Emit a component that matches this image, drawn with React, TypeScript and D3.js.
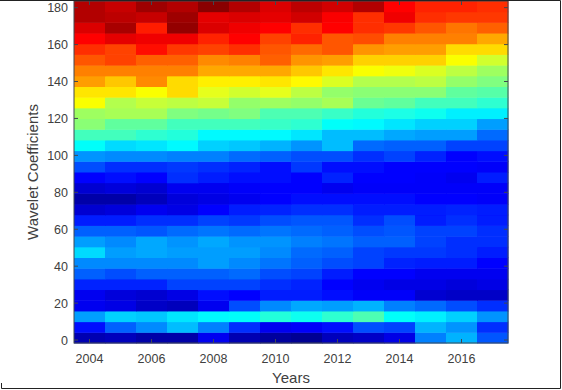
import * as d3 from "d3";

const width = 562;
const height = 390;
const margin = { top: 1, right: 54, bottom: 47, left: 74 };

const years = [2004, 2005, 2006, 2007, 2008, 2009, 2010, 2011, 2012, 2013, 2014, 2015, 2016, 2017];
const xTicks = [2004, 2006, 2008, 2010, 2012, 2014, 2016];
const yTicks = [0, 20, 40, 60, 80, 100, 120, 140, 160, 180];

// colour level of every cell (0 = dark blue, 100 = dark red), bottom row first
const rows = [
    [5, 6, 4, 4, 11, 5, 3, 2, 6, 7, 10, 25, 30, 21],
    [14, 22, 26, 31, 25, 17, 11, 12, 14, 20, 19, 30, 27, 17],
    [28, 33, 32, 35, 37, 38, 41, 39, 42, 45, 38, 36, 33, 27],
    [11, 10, 7, 6, 11, 20, 26, 29, 28, 30, 25, 23, 20, 17],
    [11, 9, 8, 10, 14, 13, 15, 15, 14, 12, 12, 8, 7, 7],
    [16, 16, 16, 19, 19, 19, 17, 16, 13, 11, 10, 10, 9, 10],
    [22, 20, 22, 22, 22, 23, 20, 19, 15, 13, 13, 11, 11, 11],
    [26, 26, 26, 26, 28, 26, 24, 22, 20, 19, 16, 15, 15, 13],
    [34, 28, 29, 28, 28, 28, 26, 23, 22, 19, 18, 18, 17, 15],
    [28, 26, 29, 27, 29, 27, 27, 25, 24, 22, 22, 19, 17, 17],
    [22, 22, 21, 23, 24, 23, 24, 23, 22, 20, 21, 19, 19, 17],
    [15, 15, 17, 17, 19, 18, 20, 21, 21, 17, 20, 15, 17, 15],
    [8, 9, 11, 10, 13, 15, 16, 17, 17, 15, 15, 15, 16, 15],
    [4, 4, 6, 9, 10, 11, 13, 14, 14, 14, 14, 13, 13, 12],
    [8, 9, 8, 11, 11, 12, 13, 13, 11, 12, 12, 12, 12, 12],
    [13, 14, 13, 17, 15, 14, 14, 13, 16, 13, 13, 12, 11, 15],
    [20, 17, 17, 18, 17, 16, 14, 18, 14, 14, 13, 13, 13, 12],
    [27, 26, 26, 25, 25, 23, 22, 20, 20, 17, 19, 16, 13, 14],
    [38, 34, 35, 37, 33, 32, 30, 27, 31, 23, 22, 22, 19, 19],
    [44, 44, 42, 41, 37, 37, 37, 35, 31, 31, 29, 28, 28, 23],
    [51, 47, 47, 44, 44, 44, 43, 42, 38, 37, 35, 33, 33, 28],
    [53, 54, 54, 50, 49, 50, 45, 45, 43, 41, 40, 39, 36, 36],
    [62, 55, 57, 56, 57, 52, 53, 52, 54, 48, 47, 44, 44, 42],
    [65, 65, 62, 66, 60, 58, 60, 56, 52, 51, 51, 51, 47, 46],
    [72, 68, 74, 66, 64, 64, 65, 63, 59, 55, 55, 56, 52, 50],
    [75, 75, 75, 75, 71, 71, 71, 68, 65, 62, 61, 59, 56, 53],
    [79, 81, 78, 78, 74, 75, 78, 73, 72, 67, 67, 67, 62, 58],
    [83, 81, 86, 82, 81, 83, 79, 77, 79, 73, 72, 72, 66, 66],
    [87, 90, 89, 89, 84, 87, 81, 84, 79, 80, 75, 75, 75, 71],
    [91, 96, 85, 98, 91, 89, 87, 83, 87, 83, 82, 79, 76, 78],
    [95, 94, 93, 97, 90, 91, 90, 92, 88, 83, 89, 83, 82, 82],
    [95, 93, 97, 95, 99, 95, 91, 94, 92, 95, 87, 84, 84, 83],
];

const rowLevels = d3.range(rows.length);
const fontFamily = "'Liberation Sans', Arial, sans-serif";
const textColor = "#404040";

// MATLAB jet
const jet = d3.scaleLinear<string>()
    .domain([0, 12.5, 37.5, 62.5, 87.5, 100])
    .range(["#00007f", "#0000ff", "#00ffff", "#ffff00", "#ff0000", "#7f0000"]);

export default function App() {
    const innerRight = width - margin.right;
    const innerBottom = height - margin.bottom;

    const x = d3.scaleLinear()
        .domain([2003.5, 2017.5])
        .range([margin.left, innerRight]);

    const y = d3.scaleLinear()
        .domain([-1.6, 183.6])
        .range([innerBottom, margin.top]);

    const rowBand = d3.scaleBand<number>()
        .domain(rowLevels)
        .range([innerBottom, margin.top]);

    const columnWidth = x(2005) - x(2004);

    return (
        <svg
            width={width}
            height={height}
            viewBox={`0 0 ${width} ${height}`}
            style={{ position: "fixed", top: 0, left: 0, background: "#fff" }}
        >
            {/* the source is a soft screenshot, so the cells get a touch of blur */}
            <defs>
                <filter id="soft" x="0" y="0" width="100%" height="100%">
                    <feGaussianBlur stdDeviation="0.5" />
                </filter>
            </defs>

            <g filter="url(#soft)">
                {rows.map((row, i) => row.map((value, j) => (
                    <rect
                        key={`${i}-${j}`}
                        x={x(years[j]) - columnWidth / 2}
                        y={rowBand(i)}
                        width={columnWidth + 0.5}
                        height={rowBand.bandwidth() + 0.5}
                        fill={jet(value)}
                    />
                )))}
            </g>

            <rect
                x={margin.left}
                y={margin.top}
                width={innerRight - margin.left}
                height={innerBottom - margin.top}
                fill="none"
                stroke="#404850"
                strokeWidth={1}
            />

            {xTicks.map(tick => (
                <g key={tick} transform={`translate(${x(tick)},0)`}>
                    <line y1={innerBottom} y2={innerBottom - 4} stroke="#404850" />
                    <line y1={margin.top} y2={margin.top + 4} stroke="#404850" />
                    <text y={362.5} textAnchor="middle" fontSize={12.5} fontFamily={fontFamily} fill={textColor}>
                        {tick}
                    </text>
                </g>
            ))}

            {yTicks.map(tick => (
                <g key={tick} transform={`translate(0,${y(tick)})`}>
                    <line x1={margin.left} x2={margin.left + 4} stroke="#404850" />
                    <line x1={innerRight} x2={innerRight - 4} stroke="#404850" />
                    <text x={68} y={4.5} textAnchor="end" fontSize={12.5} fontFamily={fontFamily} fill={textColor}>
                        {tick}
                    </text>
                </g>
            ))}

            <text x={291} y={383} textAnchor="middle" fontSize={15} fontFamily={fontFamily} fill={textColor}>
                Years
            </text>
            <text
                transform="translate(38,172) rotate(-90)"
                textAnchor="middle"
                fontSize={15}
                fontFamily={fontFamily}
                fill={textColor}
            >
                Wavelet Coefficients
            </text>

            {/* screenshot frame on the top, right and bottom, with a stub on the left */}
            <path
                d={`M0,0.5H${width - 1.5}V${height - 1.5}H1.5V${height - 7}`}
                fill="none"
                stroke="#222"
                strokeWidth={1}
            />
        </svg>
    );
}
